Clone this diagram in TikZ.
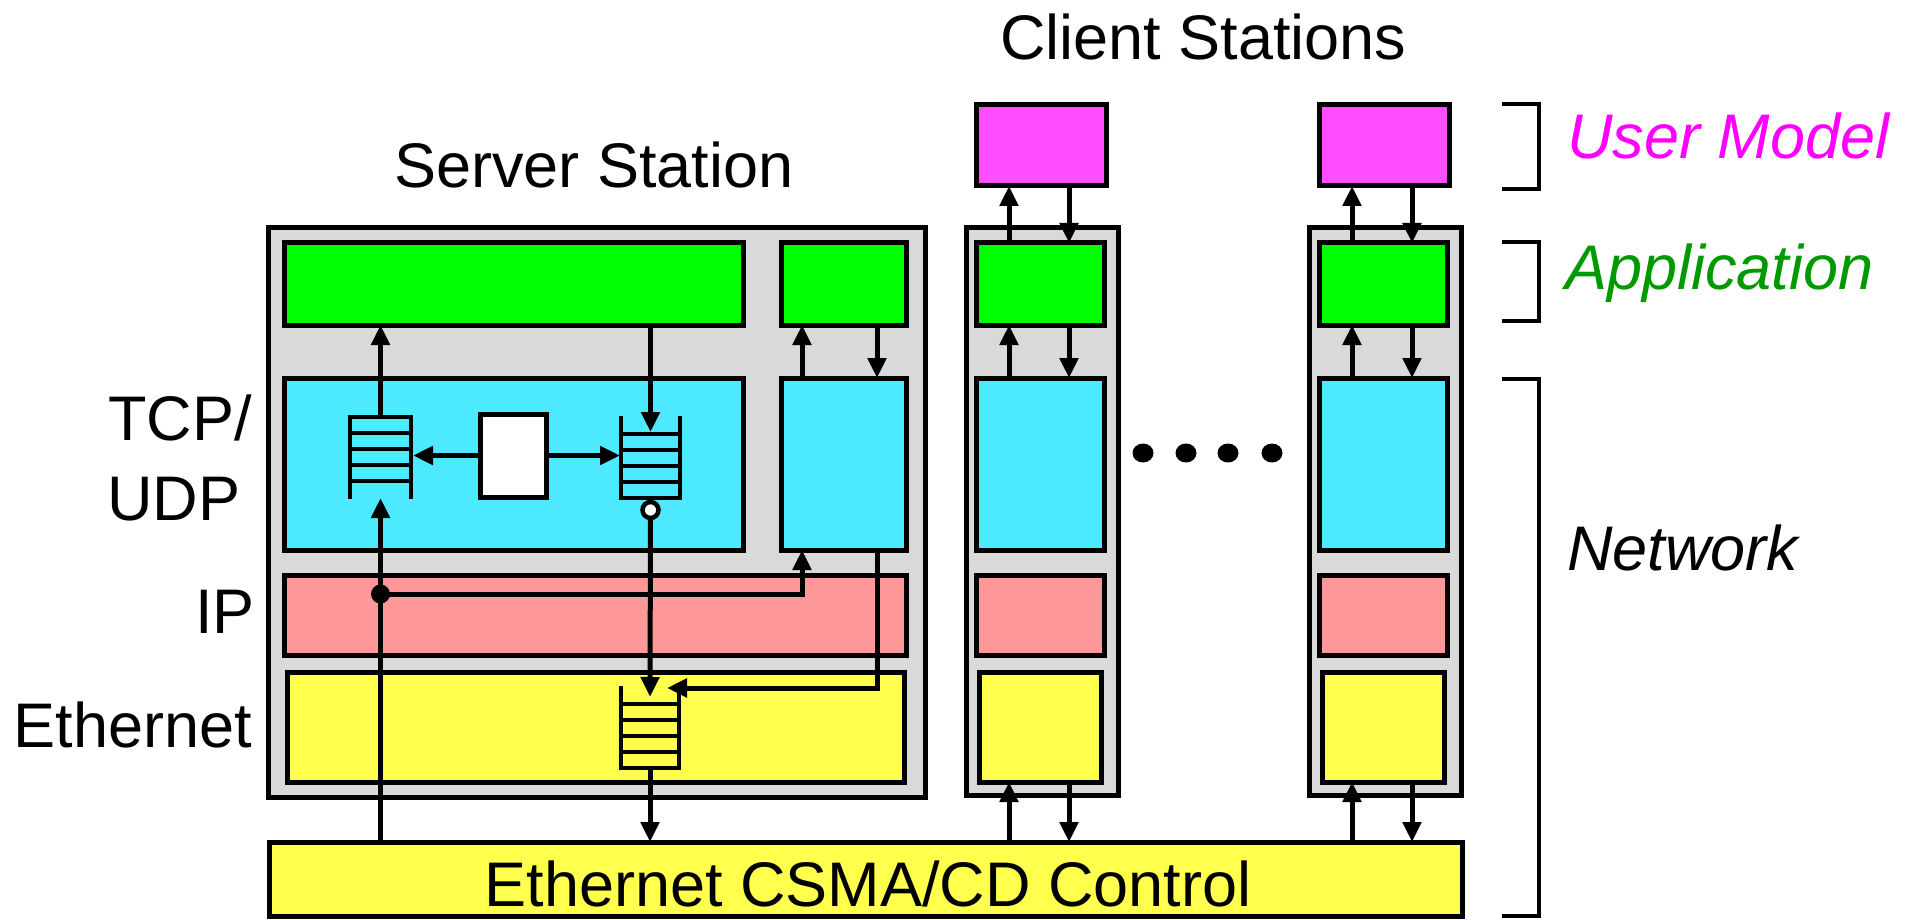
\documentclass[tikz,border=0pt]{standalone}
\usepackage{fontspec}
\setmainfont{Liberation Sans}
\usetikzlibrary{arrows.meta,fit,calc}
\definecolor{stgray}{HTML}{D9D9D9}
\definecolor{appgreen}{HTML}{00FF00}
\definecolor{tcpcyan}{HTML}{4DE9FF}
\definecolor{ippink}{HTML}{FF9999}
\definecolor{ethyellow}{HTML}{FFFF4D}
\definecolor{usermag}{HTML}{FF4DFF}
\definecolor{txtmag}{HTML}{FF00FF}
\definecolor{txtgreen}{HTML}{009900}
\begin{document}
\begin{tikzpicture}[x=1pt,y=-1pt,
  station/.style={draw, line width=5.5pt, fill=stgray, inner sep=0pt, outer sep=0pt},
  layer/.style={draw, line width=5pt, inner sep=0pt, outer sep=0pt},
  frame/.style={inner sep=0pt, outer sep=0pt},
  conn/.style={line width=5pt},
  arr/.style={conn, -{Triangle[length=20pt,width=18pt]}},
  qline/.style={line width=4.5pt, line cap=rect},
  big/.style={font=\fontsize{63}{70}\selectfont, inner sep=0pt},
  tag/.style={font=\fontsize{63}{70}\selectfont\itshape, inner sep=0pt, anchor=base west},
  brace/.style={line width=4pt}
]
\useasboundingbox (0,0) rectangle (1915,920);

% ---------- titles and layer names ----------
\node[big, anchor=base west] (tclients) at (1000,60) {Client Stations};
\node[big, anchor=base west] (tserver) at (394,188) {Server Station};
\node[big, anchor=base west] (ttcp) at (108,440) {TCP/};
\node[big, anchor=base west] (tudp) at (107,520) {UDP};
\node[big, anchor=base east] (tip) at (255,633) {IP};
\node[big, anchor=base east] (teth) at (252,747) {Ethernet};

% ---------- server station ----------
\node[station, fit={(268.5,227.5)(925.5,797.5)}] (server) {};
\node[layer, fill=appgreen, fit={(284,243)(743,325)}] (sapp) {};
\node[layer, fill=appgreen, fit={(781,243)(906,325)}] (sapp2) {};
\node[layer, fill=tcpcyan, fit={(284,378)(743,550)}] (stcp) {};
\node[layer, fill=tcpcyan, fit={(781,378)(906,550)}] (stcp2) {};
\node[layer, fill=ippink, fit={(284,575)(906,655)}] (sip) {};
\node[layer, fill=ethyellow, fit={(287,672)(904,782)}] (seth) {};

% shared Ethernet bus
\node[layer, fill=ethyellow, fit={(269,842)(1462,916)}] (bus) {};
\node[big, anchor=base] (tbus) at (868,906) {Ethernet CSMA/CD Control};

% queues: receive (open bottom), send (open top), Ethernet send (open top)
\node[frame, fit={(350,417)(411,497)}] (rq) {};
\draw[qline] (rq.south west) -- (rq.north west) -- (rq.north east) -- (rq.south east);
\foreach \k in {1,2,3,4}
  \draw[qline] ($(rq.north west)+(0,16*\k)$) -- ($(rq.north east)+(0,16*\k)$);

\node[frame, fit={(621,418)(680,498)}] (sq) {};
\draw[qline] (sq.north west) -- (sq.south west) -- (sq.south east) -- (sq.north east);
\foreach \k in {1,2,3,4}
  \draw[qline] ($(sq.south west)+(0,-16*\k)$) -- ($(sq.south east)+(0,-16*\k)$);

\node[frame, fit={(621,688)(679,768)}] (eq) {};
\draw[qline] (eq.north west) -- (eq.south west) -- (eq.south east) -- (eq.north east);
\foreach \k in {1,2,3,4}
  \draw[qline] ($(eq.south west)+(0,-16*\k)$) -- ($(eq.south east)+(0,-16*\k)$);

% connection manager and its ring
\node[layer, fill=white, fit={(480,414)(546,497)}] (mgr) {};
\node[circle, draw, line width=4.5pt, fill=white, minimum size=16pt, inner sep=0pt, outer sep=0pt] (ring) at (650.5,510) {};
\node[circle, fill, minimum size=19pt, inner sep=0pt, outer sep=0pt] (ipdot) at (380.5,594) {};

% column positions
\coordinate (sa) at (802,0);
\coordinate (sb) at (877,0);

% server connectors
\draw[arr] (rq.north) -- (rq.north |- sapp.south);
\draw[arr] (rq.south |- bus.north) -- ([yshift=-1pt]rq.south);
\draw[arr] (sq.north |- sapp.south) -- ([yshift=-14pt]sq.north);
\draw[arr, shorten >=2pt] (mgr.west) -- (mgr.west -| rq.east);
\draw[arr, shorten >=1pt] (mgr.east) -- (mgr.east -| sq.west);
\draw[arr] (ring.south) -- ([yshift=-9pt]eq.north);
\draw[arr] (eq.south) -- (eq.south |- bus.north);
\draw[arr] (ipdot.center) -| (sa |- stcp2.south);
\draw[arr] (sa |- stcp2.north) -- (sa |- sapp2.south);
\draw[arr] (sb |- sapp2.south) -- (sb |- stcp2.north);
\draw[arr] (sb |- stcp2.south) |- ([xshift=-12pt]eq.north east);

% ---------- client stations ----------
\foreach \c/\dx in {1/0,2/343}{
  \node[station, fit={(966.5+\dx,227.5)(1118.5+\dx,795.5)}] (c\c) {};
  \node[layer, fill=usermag, fit={(976+\dx,105)(1106+\dx,186)}] (c\c user) {};
  \node[layer, fill=appgreen, fit={(976+\dx,243)(1104+\dx,325)}] (c\c app) {};
  \node[layer, fill=tcpcyan, fit={(976+\dx,378)(1104+\dx,550)}] (c\c tcp) {};
  \node[layer, fill=ippink, fit={(976+\dx,575)(1104+\dx,655)}] (c\c ip) {};
  \node[layer, fill=ethyellow, fit={(979+\dx,672)(1101+\dx,782)}] (c\c eth) {};
  \coordinate (c\c a) at (1009+\dx,0);
  \coordinate (c\c b) at (1069+\dx,0);
  \draw[arr] (c\c a |- c\c app.north) -- (c\c a |- c\c user.south);
  \draw[arr] (c\c b |- c\c user.south) -- (c\c b |- c\c app.north);
  \draw[arr] (c\c a |- c\c tcp.north) -- (c\c a |- c\c app.south);
  \draw[arr] (c\c b |- c\c app.south) -- (c\c b |- c\c tcp.north);
  \draw[arr] (c\c a |- bus.north) -- (c\c a |- c\c eth.south);
  \draw[arr] (c\c b |- c\c eth.south) -- (c\c b |- bus.north);
}

% ellipsis between the clients
\foreach \x in {1143,1186,1228,1272}
  \fill (\x,453) ellipse [x radius=10.5, y radius=9.5];

% ---------- layer brackets ----------
\draw[brace] (1502,104) -- (1539,104) -- (1539,189) -- (1502,189);
\draw[brace] (1502,242) -- (1539,242) -- (1539,321) -- (1502,321);
\draw[brace] (1502,379) -- (1539,379) -- (1539,916) -- (1502,916);
\node[tag, text=txtmag] (tuser) at (1567,159) {User Model};
\node[tag, text=txtgreen] (tappl) at (1565,290) {Application};
\node[tag] (tnet) at (1567,570) {Network};
\end{tikzpicture}
\end{document}
